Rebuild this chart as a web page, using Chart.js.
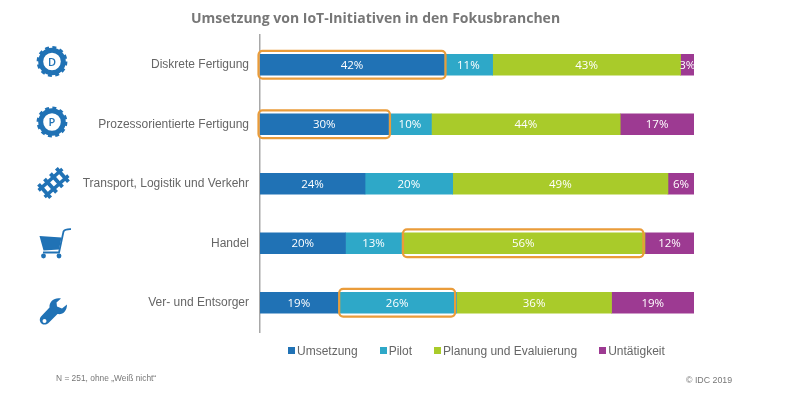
<!DOCTYPE html>
<html>
<head>
<meta charset="utf-8">
<style>
  html, body { margin: 0; padding: 0; background: #fff; }
  #wrap { position: relative; width: 800px; height: 400px; overflow: hidden; font-family: "Liberation Sans", Arial, sans-serif; }
  #icons { position: absolute; left: 0; top: 0; }
  #legend { position: absolute; left: 288px; top: 344px; display: flex; gap: 22px; font-size: 12px; line-height: 14px; color: #666; white-space: nowrap; }
  #legend i { display: inline-block; width: 7px; height: 7px; margin-right: 2px; vertical-align: 1px; }
  .note { position: absolute; color: #777; white-space: nowrap; }
</style>
</head>
<body>
<div id="wrap">
  <canvas id="chart" width="800" height="400"></canvas>
  <svg id="icons" width="800" height="400" fill="#2072b5">
    <g>
      <circle cx="52" cy="61.500" r="11.300" fill="none" stroke="#2072b5" stroke-width="5"/>
      <circle cx="52" cy="61.500" r="14.200" fill="none" stroke="#2072b5" stroke-width="2.400" stroke-dasharray="4 3.430"/>
      <text x="52" y="65.500" font-size="11" font-family="Open Sans" font-weight="600" text-anchor="middle">D</text>
    </g>
    <g>
      <circle cx="52" cy="122" r="11.300" fill="none" stroke="#2072b5" stroke-width="5"/>
      <circle cx="52" cy="122" r="14.200" fill="none" stroke="#2072b5" stroke-width="2.400" stroke-dasharray="4 3.430"/>
      <text x="52" y="126" font-size="11" font-family="Open Sans" font-weight="600" text-anchor="middle">P</text>
    </g>
    <g transform="translate(53.500 183) rotate(-42)" stroke="#2072b5" stroke-linecap="butt">
      <path d="M-16 -4.500H16M-16 4.500H16" stroke-width="3.400"/>
      <path d="M-12 -9V9M-4 -9V9M4 -9V9M12 -9V9" stroke-width="3.800"/>
    </g>
    <g>
      <path d="M39.500 236L61.500 237.500L59 249.500L43.500 250.500Z"/>
      <path d="M71 229.200Q65 229 63.500 231.500L59 252.500H43" fill="none" stroke="#2072b5" stroke-width="1.800"/>
      <circle cx="43.500" cy="256" r="2.400"/>
      <circle cx="59" cy="256" r="2.400"/>
    </g>
    <path fill-rule="evenodd" d="M61 298.500C55 297 49 301 49.500 307.500L41 316.500C38 320 41 325.500 45.500 324.500C47 324.200 48 323.500 49 322.500L57.500 314C63 315 67 311 67 304.500L62 308.500L57 306.500L56.500 302.500ZM44.500 319A2 2 0 1 0 44.501 323A2 2 0 1 0 44.500 319Z"/>
  </svg>
  <div id="legend"></div>
  <div class="note" style="left:56px;top:373px;font-size:8.4px">N = 251, ohne „Weiß nicht“</div>
  <div class="note" style="left:686px;top:375px;font-size:8.8px">© IDC 2019</div>
</div>
<script src="https://cdn.jsdelivr.net/npm/chart.js@4"></script>
<script>
const categories = ["Diskrete Fertigung", "Prozessorientierte Fertigung", "Transport, Logistik und Verkehr", "Handel", "Ver- und Entsorger"];
const seriesNames = ["Umsetzung", "Pilot", "Planung und Evaluierung", "Untätigkeit"];
const seriesColors = ["#2072b5", "#2ea8c8", "#a9cb2a", "#9d3a92"];

// bar lengths as drawn in the picture
const umsetzung = [42.4, 29.6, 24.2, 19.7, 17.9];
const pilot = [11.2, 9.9, 20.2, 12.9, 27.4];
const planung = [43.3, 43.5, 49.6, 56.1, 35.7];
const untaetigkeit = [3.1, 17, 6, 11.3, 19];

// percentages as printed on the bars
const umsetzungLabels = ["42%", "30%", "24%", "20%", "19%"];
const pilotLabels = ["11%", "10%", "20%", "13%", "26%"];
const planungLabels = ["43%", "44%", "49%", "56%", "36%"];
const untaetigkeitLabels = ["3%", "17%", "6%", "12%", "19%"];

// orange frames: [series index, category index]
const highlights = [[0, 0], [0, 1], [2, 3], [1, 4]];

const seriesValues = [umsetzung, pilot, planung, untaetigkeit];
const seriesLabels = [umsetzungLabels, pilotLabels, planungLabels, untaetigkeitLabels];

const legendEl = document.getElementById("legend");
seriesNames.forEach((name, i) => {
  const item = document.createElement("span");
  item.innerHTML = '<i style="background:' + seriesColors[i] + '"></i>' + name;
  legendEl.appendChild(item);
});

const barExtras = {
  id: "barExtras",
  afterLayout(chart) {
    // title sits left of the canvas centre
    chart.titleBlock.left = 0;
    chart.titleBlock.right = 751;
  },
  afterDatasetsDraw(chart) {
    const ctx = chart.ctx;
    ctx.save();
    ctx.textAlign = "center";
    ctx.textBaseline = "middle";
    ctx.font = "11.5px 'Open Sans'";
    ctx.fillStyle = "#fff";
    seriesLabels.forEach((labels, s) => {
      chart.getDatasetMeta(s).data.forEach((bar, i) => {
        const left = Math.min(bar.x, bar.base);
        ctx.save();
        ctx.beginPath();
        ctx.rect(left, bar.y - 15, Math.abs(bar.x - bar.base), 30);
        ctx.clip();
        ctx.fillText(labels[i], (bar.x + bar.base) / 2, bar.y + 0.5);
        ctx.restore();
      });
    });
    ctx.strokeStyle = "#ea9c3a";
    ctx.lineWidth = 2.2;
    highlights.forEach(([s, i]) => {
      const bar = chart.getDatasetMeta(s).data[i];
      // frames on the first series stick out, the others sit just inside the bar
      const pad = s === 0 ? 1.5 : -1.5;
      ctx.beginPath();
      ctx.roundRect(bar.base - pad, bar.y - 13.8, bar.x - bar.base + 2 * pad, 27.6, 4);
      ctx.stroke();
    });
    ctx.restore();
  },
};

new Chart(document.getElementById("chart"), {
  type: "bar",
  data: {
    labels: categories,
    datasets: seriesNames.map((name, i) => ({
      label: name,
      data: seriesValues[i],
      backgroundColor: seriesColors[i],
      barThickness: 21,
    })),
  },
  plugins: [barExtras],
  options: {
    indexAxis: "y",
    responsive: false,
    animation: false,
    layout: { padding: { top: 0.2, right: 106, bottom: 67.5, left: 0 } },
    plugins: {
      legend: { display: false },
      tooltip: { enabled: false },
      title: {
        display: true,
        text: "Umsetzung von IoT-Initiativen in den Fokusbranchen",
        color: "#777",
        font: { family: "'Open Sans'", size: 14, weight: "bold" },
        padding: { top: 10, bottom: 8 },
      },
    },
    scales: {
      x: { stacked: true, display: false, min: 0, max: 100 },
      y: {
        stacked: true,
        afterFit(scale) { scale.width = 260; },
        grid: { display: false },
        border: { color: "#a8a8a8", width: 1.5 },
        ticks: {
          color: "#666",
          padding: 3,
          font: { family: "'Liberation Sans'", size: 12 },
        },
      },
    },
  },
});
</script>
</body>
</html>
